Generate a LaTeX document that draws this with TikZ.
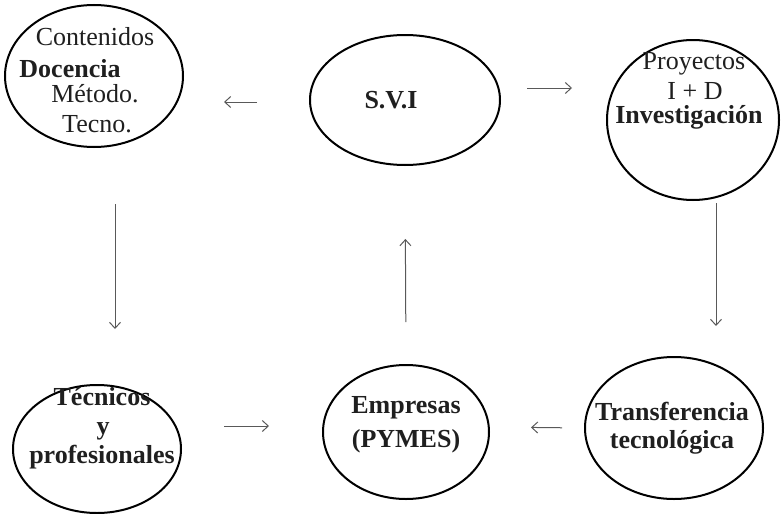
\documentclass[tikz,border=0pt]{standalone}
\usepackage{fontspec}
\setmainfont{Liberation Serif}
\usetikzlibrary{shapes.geometric}
\usetikzlibrary{arrows.meta}

\begin{document}
\begin{tikzpicture}[x=0.5pt,y=-0.5pt,text depth=0pt]
\tikzstyle{every node}=[font=\fontsize{13pt}{15pt}\selectfont,text=black!88]
\tikzstyle{bubble}=[ellipse,draw=black,line width=1pt,inner sep=0pt]
\tikzstyle{word}=[anchor=base,inner sep=0pt]
\tikzstyle{strong}=[word,font=\fontsize{13pt}{15pt}\selectfont\bfseries]
\tikzstyle{flow}=[-{Straight Barb[length=3pt,width=5.5pt]},draw=black!65,line width=0.5pt]
\useasboundingbox (0,0) rectangle (782,514);
% ellipses
\node[bubble,minimum width=89pt,minimum height=71pt] (doc) at (94,76) {};
\node[bubble,minimum width=95pt,minimum height=65pt] (svi) at (405,100) {};
\node[bubble,minimum width=86pt,minimum height=80pt] (inv) at (693,120) {};
\node[bubble,minimum width=84pt,minimum height=64pt] (tec) at (97,449) {};
\node[bubble,minimum width=83pt,minimum height=67pt] (emp) at (406,432) {};
\node[bubble,minimum width=89pt,minimum height=71pt] (trans) at (674,428) {};
% texts
\node[word] (contenidos) at (95,45) {Contenidos};
\node[strong] (docencia) at (70,77) {Docencia};
\node[word] (metodo) at (95,102) {Método.};
\node[word] (tecno) at (97,132) {Tecno.};
\node[strong] (sviname) at (391,108) {S.V.I};
\node[word] (proyectos) at (694,69) {Proyectos};
\node[word] (imasd) at (695,99) {I + D};
\node[strong] (investigacion) at (689,123) {Investigación};
\node[strong] (tecnicos) at (102,405) {Técnicos};
\node[strong] (ye) at (103,434) {y};
\node[strong] (profesionales) at (102,463) {profesionales};
\node[strong] (empresas) at (406,413) {Empresas};
\node[strong] (pymes) at (406,447) {(PYMES)};
\node[strong] (transferencia) at (672,420) {Transferencia};
\node[strong] (tecnologica) at (672,448) {tecnológica};
% arrows
\draw[flow,shorten <=26pt,shorten >=20pt] ([yshift=-1pt]svi.west) -- ([yshift=-13pt]doc.east);
\draw[flow,shorten <=13pt,shorten >=17pt] ([yshift=6pt]svi.east) -- ([yshift=16pt]inv.west);
\draw[flow,shorten <=28pt,shorten >=27.5pt] ([xshift=10.5pt]doc.south) -- ([xshift=9pt]tec.north);
\draw[flow,shorten <=1pt,shorten >=15pt] ([xshift=11.5pt]inv.south) -- ([xshift=21pt]trans.north);
\draw[flow,shorten <=21pt,shorten >=36.5pt] (emp.north) -- (svi.south);
\draw[flow,shorten <=21pt,shorten >=26.5pt] ([yshift=11.5pt]tec.east) -- ([yshift=3pt]emp.west);
\draw[flow,shorten <=11pt,shorten >=20.5pt] (trans.west) -- ([yshift=2.5pt]emp.east);
\end{tikzpicture}
\end{document}
